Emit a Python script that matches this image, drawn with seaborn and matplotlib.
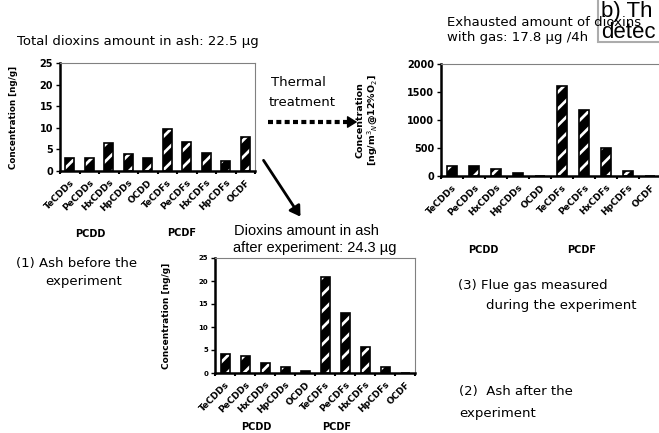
import numpy as np
import pandas as pd
import matplotlib
matplotlib.use("Agg")
import matplotlib.pyplot as plt
import seaborn as sns
from matplotlib.patches import FancyArrowPatch, Rectangle
from matplotlib.lines import Line2D

categories = ["TeCDDs", "PeCDDs", "HxCDDs", "HpCDDs", "OCDD",
              "TeCDFs", "PeCDFs", "HxCDFs", "HpCDFs", "OCDF"]
ash_before = [3.1, 3.1, 6.4, 3.9, 3.1, 9.7, 6.8, 4.2, 2.3, 7.9]      # ng/g
ash_after = [4.1, 3.6, 2.2, 1.2, 0.5, 20.9, 13.0, 5.7, 1.2, 0.1]     # ng/g
flue_gas = [180, 180, 125, 60, 0, 1615, 1180, 495, 95, 0]           # ng/m3N @12%O2

sns.set_style("ticks")
plt.rcParams["font.family"] = ["DejaVu Sans"]
plt.rcParams["hatch.linewidth"] = 2.0
for k in ["text.color", "axes.labelcolor", "xtick.color", "ytick.color"]:
    plt.rcParams[k] = "black"

W, H = 659, 433
fig = plt.figure(figsize=(W / 100, H / 100), dpi=100)


def px(x, y):
    return x / W, 1 - y / H


def add_axes(left, top, right, bottom):
    return fig.add_axes([left / W, 1 - bottom / H, (right - left) / W, (bottom - top) / H])


def bar_panel(ax, values, ymax, yticks, ytick_size):
    df = pd.DataFrame({"cat": categories, "val": values})
    sns.barplot(data=df, x="cat", y="val", ax=ax, color="black", width=0.45,
                hatch="//", edgecolor="white", linewidth=0)
    sns.barplot(data=df, x="cat", y="val", ax=ax, color="black", width=0.45,
                fill=False, linewidth=1.2)
    ax.set_xlim(-0.5, len(categories) - 0.5)
    ax.set_ylim(0, ymax)
    ax.set_yticks(yticks)
    ax.set_xlabel("")
    ax.set_xticks(range(len(categories)))
    ax.set_xticklabels(categories, rotation=45, ha="right", rotation_mode="anchor",
                       fontsize=6.5, fontweight="bold")
    ax.set_xticks(np.arange(-0.5, len(categories) - 0.4, 1), minor=True)
    ax.tick_params(axis="x", which="major", length=0, pad=5)
    ax.tick_params(axis="x", which="minor", length=2, width=1.5, direction="out")
    ax.tick_params(axis="y", length=3, width=1, labelsize=ytick_size, pad=2)
    for lab in ax.get_yticklabels():
        lab.set_fontweight("bold")
    for s in ["top", "right"]:
        ax.spines[s].set_visible(True)
        ax.spines[s].set_color("#808080")
        ax.spines[s].set_linewidth(0.8)
    for s in ["left", "bottom"]:
        ax.spines[s].set_color("black")
        ax.spines[s].set_linewidth(1.8)


# (1) ash before
ax1 = add_axes(60, 63, 255, 171)
bar_panel(ax1, ash_before, 25, [0, 5, 10, 15, 20, 25], 7)
ax1.set_ylabel("Concentration [ng/g]", fontsize=6.3, fontweight="bold")
ax1.yaxis.set_label_coords(-0.215, 0.5)

# (3) flue gas
ax3 = add_axes(441, 64, 661, 176)
bar_panel(ax3, flue_gas, 2000, [0, 500, 1000, 1500, 2000], 7)
ax3.set_ylabel("Concentration\n[ng/m$^3$$_N$@12%O$_2$]", fontsize=6.8,
               fontweight="bold", linespacing=1.1)
ax3.yaxis.set_label_coords(-0.28, 0.5)

# (2) ash after
ax2 = add_axes(215, 258, 415, 373)
bar_panel(ax2, ash_after, 25, [0, 5, 10, 15, 20, 25], 5)
ax2.set_ylabel("Concentration [ng/g]", fontsize=6.5, fontweight="bold")
ax2.yaxis.set_label_coords(-0.22, 0.5)

# group labels
for x, y, t in [(90, 234, "PCDD"), (182, 233, "PCDF"),
                (483, 250, "PCDD"), (582, 250, "PCDF"),
                (256, 427, "PCDD"), (337, 427, "PCDF")]:
    fig.text(*px(x, y), t, fontsize=7, fontweight="bold", ha="center", va="center")

# titles / annotations
fs = 9.5
fig.text(*px(17, 42), "Total dioxins amount in ash: 22.5 µg", fontsize=fs, va="center")
fig.text(*px(447, 23), "Exhausted amount of dioxins", fontsize=fs, va="center")
fig.text(*px(447, 37), "with gas: 17.8 µg /4h", fontsize=fs, va="center")
fig.text(*px(271, 83), "Thermal", fontsize=fs, va="center")
fig.text(*px(269, 103), "treatment", fontsize=fs, va="center")
fig.text(*px(234, 231), "Dioxins amount in ash", fontsize=10.5, va="center",
         family="Liberation Sans")
fig.text(*px(233, 248), "after experiment: 24.3 µg", fontsize=10.5, va="center",
         family="Liberation Sans")
fig.text(*px(16, 263), "(1) Ash before the", fontsize=fs, va="center")
fig.text(*px(45, 282), "experiment", fontsize=fs, va="center")
fig.text(*px(458, 285), "(3) Flue gas measured", fontsize=fs, va="center")
fig.text(*px(486, 306), "during the experiment", fontsize=fs, va="center")
fig.text(*px(459, 392), "(2)  Ash after the", fontsize=fs, va="center")
fig.text(*px(459, 413), "experiment", fontsize=fs, va="center")

# arrows
fig.add_artist(Line2D([268 / W, 350 / W], [1 - 122 / H, 1 - 122 / H],
                      transform=fig.transFigure, color="black", lw=3,
                      linestyle=(0, (1.2, 0.8))))
fig.add_artist(FancyArrowPatch(px(346, 122), px(360, 122), transform=fig.transFigure,
                               arrowstyle="-|>,head_length=4,head_width=2.5",
                               color="black", lw=1, mutation_scale=1.5))
fig.add_artist(FancyArrowPatch(px(262, 158), px(302, 219), transform=fig.transFigure,
                               arrowstyle="-|>,head_length=4,head_width=2.5",
                               color="black", lw=2, mutation_scale=1.5))

# overlapping caption box at the top right
fig.add_artist(Rectangle(px(598, 42), 80 / W, 46 / H, transform=fig.transFigure,
                         facecolor="white", alpha=0.75, edgecolor="#909090", lw=1.5))
fig.text(*px(601, 17), "b) Th", fontsize=16, va="baseline", family="Liberation Sans")
fig.text(*px(601, 38), "detec", fontsize=16, va="baseline", family="Liberation Sans")

fig.savefig("out.png", dpi=100)
